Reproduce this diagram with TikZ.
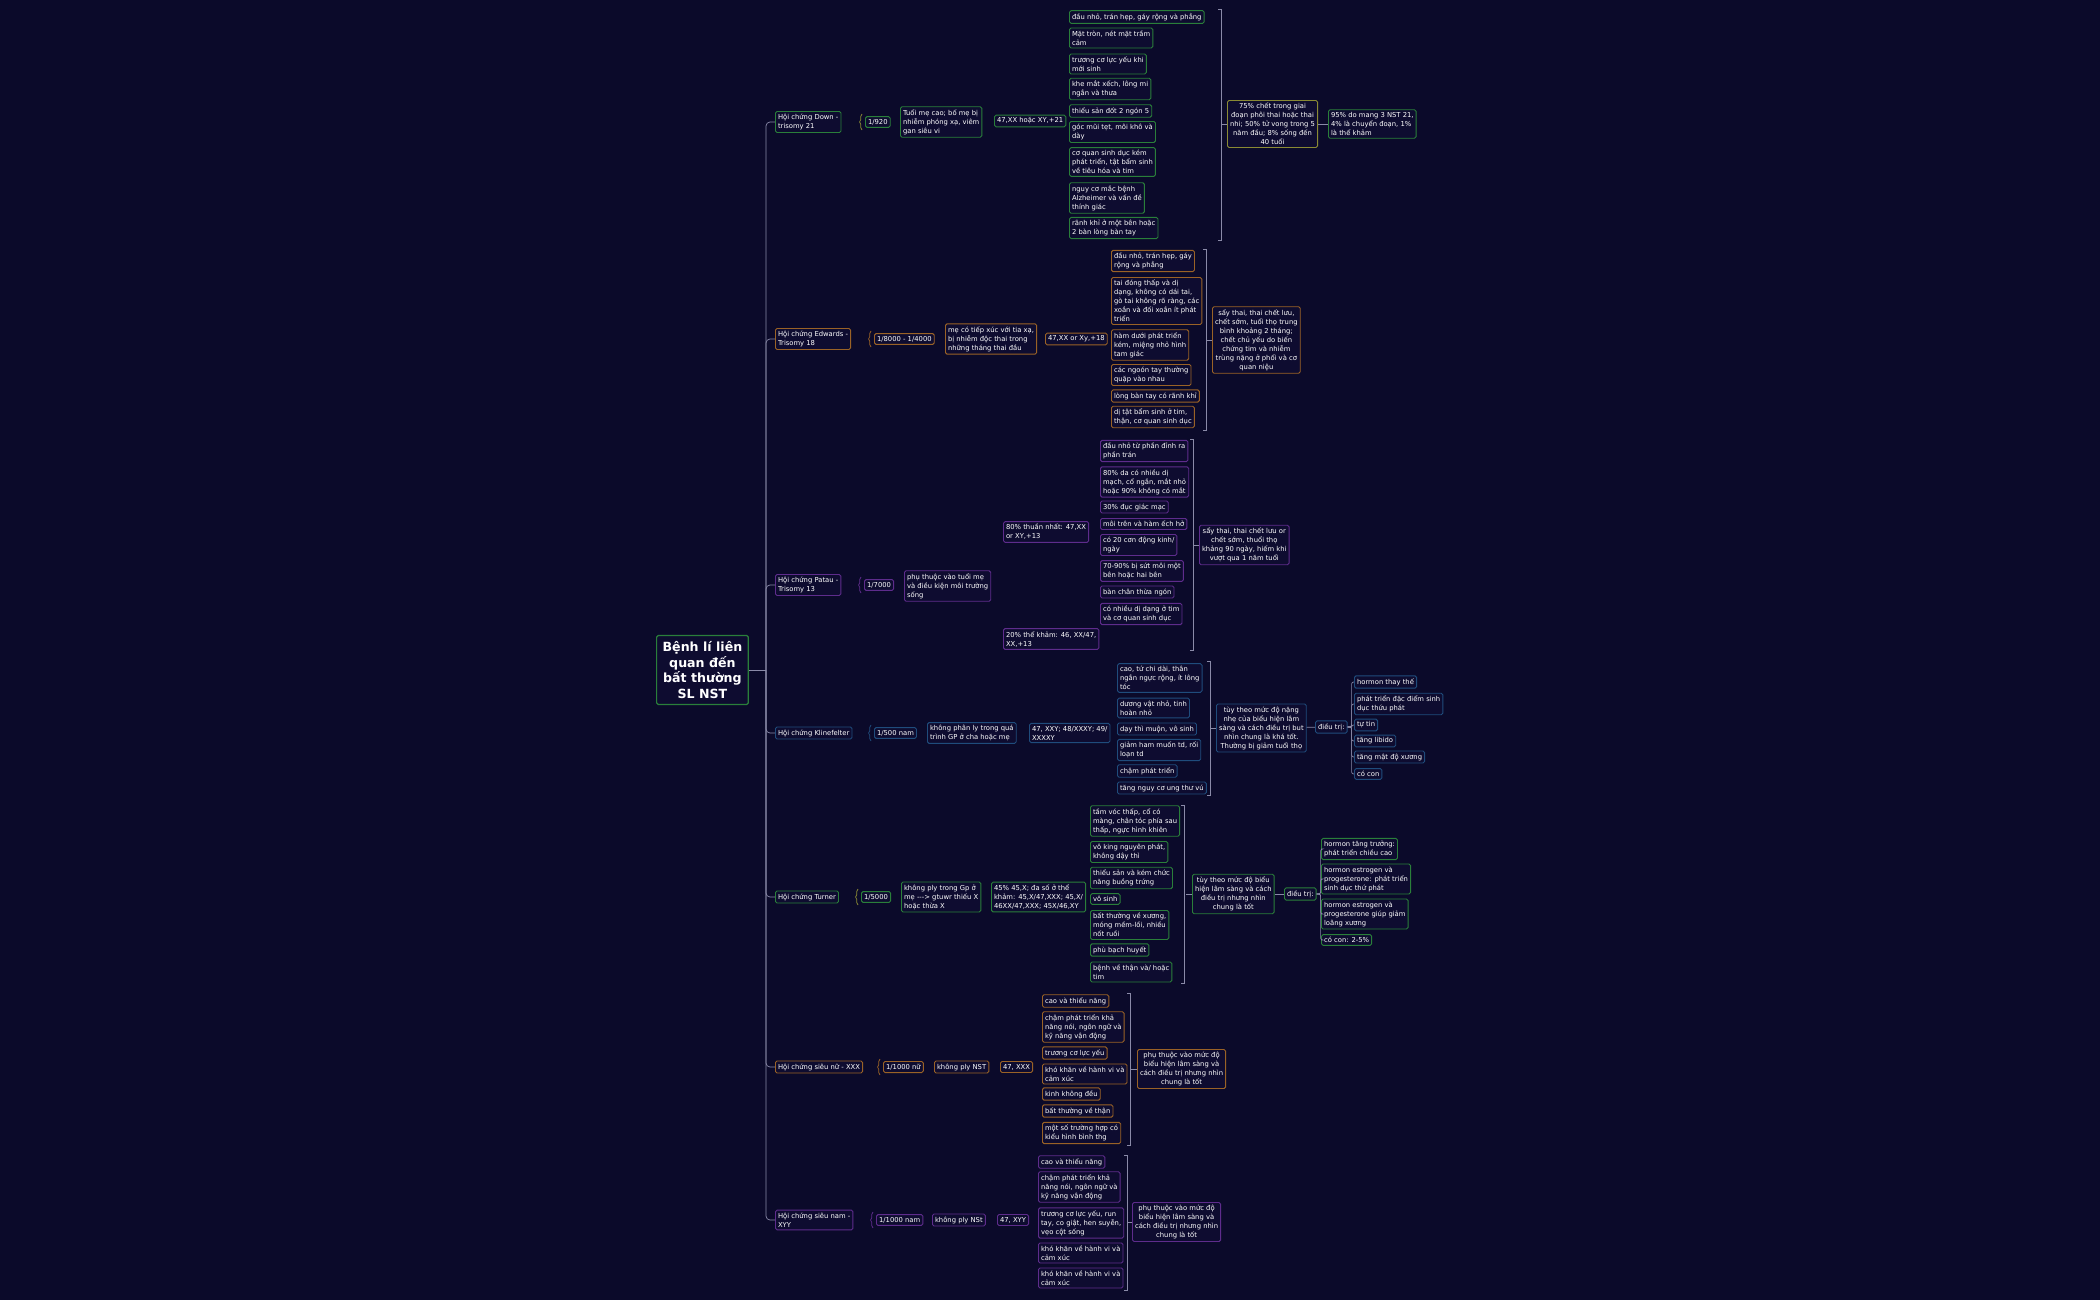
\documentclass[tikz,border=0pt]{standalone}
\usepackage{fontspec}
\setmainfont{DejaVu Sans}
\usetikzlibrary{calc,decorations.pathreplacing}
\definecolor{bgc}{HTML}{0B0A2A}
\definecolor{boxc}{HTML}{0E0C30}
\definecolor{grn}{HTML}{2A7F3A}
\definecolor{org}{HTML}{9A6226}
\definecolor{pur}{HTML}{5E2C8C}
\definecolor{blu}{HTML}{1F4C7C}
\definecolor{olv}{HTML}{8A8A34}
\definecolor{lnc}{HTML}{8A8AA8}
\tikzset{
  box/.style={draw, rounded corners=0.8pt, line width=0.45pt, fill=boxc, text=white,
    anchor=west, align=left, inner sep=1.3pt, font=\fontsize{3.4}{4.5}\selectfont},
  ctr/.style={align=center},
  dn/.style={draw=grn}, ed/.style={draw=org}, pa/.style={draw=pur},
  kl/.style={draw=blu}, tu/.style={draw=grn}, sf/.style={draw=org}, sm/.style={draw=pur},
  ln/.style={draw=lnc, line width=0.35pt},
  brc/.style={decorate, decoration={brace,amplitude=1.2pt}, line width=0.35pt},
}
\newcommand{\bx}[5][]{\node[box,#1] (#2) at (#3,#4) {#5};}
\begin{document}
\begin{tikzpicture}[x=0.5pt, y=-0.5pt]
\fill[bgc] (0,0) rectangle (2100,1300);
\useasboundingbox (0,0) rectangle (2100,1300);

\node[box, draw=grn, line width=0.6pt, align=center, inner sep=3pt,
  font=\fontsize{6.3}{7.8}\selectfont\bfseries] (root) at (656,670)
  {Bệnh lí liên\\quan đến\\bất thường\\SL NST};
\coordinate (rt) at (766,670);
\draw[ln] (root.east) -- (rt);

% Down
\bx[dn]{dS}{775}{122}{Hội chứng Down -\\trisomy 21}
\bx[dn]{dI}{865}{122}{1/920}
\bx[dn]{dC}{900}{122}{Tuổi mẹ cao; bố mẹ bị\\nhiễm phóng xạ, viêm\\gan siêu vi}
\bx[dn]{dK}{994}{121}{47,XX hoặc XY,+21}
\bx[dn]{d1}{1069}{17}{đầu nhỏ, trán hẹp, gáy rộng và phẳng}
\bx[dn]{d2}{1069}{38}{Mặt tròn, nét mặt trầm\\cảm}
\bx[dn]{d3}{1069}{64}{trương cơ lực yếu khi\\mới sinh}
\bx[dn]{d4}{1069}{89}{khe mắt xếch, lông mi\\ngắn và thưa}
\bx[dn]{d5}{1069}{111}{thiểu sản đốt 2 ngón 5}
\bx[dn]{d6}{1069}{132}{góc mũi tẹt, môi khô và\\dày}
\bx[dn]{d7}{1069}{162}{cơ quan sinh dục kém\\phát triển, tật bẩm sinh\\về tiêu hóa và tim}
\bx[dn]{d8}{1069}{198}{nguy cơ mắc bệnh\\Alzheimer và vấn đề\\thính giác}
\bx[dn]{d9}{1069}{228}{rãnh khỉ ở một bên hoặc\\2 bàn lòng bàn tay}
\bx[draw=olv,ctr]{dO}{1227}{124}{75\% chết trong giai\\đoạn phôi thai hoặc thai\\nhi; 50\% tử vong trong 5\\năm đầu; 8\% sống đến\\40 tuổi}
\bx[dn]{dF}{1328}{124}{95\% do mang 3 NST 21,\\4\% là chuyển đoạn, 1\%\\là thể khảm}
\draw[brc, draw=olv] ($(dI.west)+(-3,8)$) -- ($(dI.west)+(-3,-8)$);
\draw[ln] (1218,9) -- (1221,9) -- (1221,240) -- (1218,240);
\draw[ln] (dO.west) -- ++(-6,0);
\draw[ln] (dO) -- (dF);

% Edwards
\bx[ed]{eS}{775}{339}{Hội chứng Edwards -\\Trisomy 18}
\bx[ed]{eI}{874}{339}{1/8000 - 1/4000}
\bx[ed]{eC}{945}{339}{mẹ có tiếp xúc với tia xạ,\\bị nhiễm độc thai trong\\những tháng thai đầu}
\bx[ed]{eK}{1045}{339}{47,XX or Xy,+18}
\bx[ed]{e1}{1111}{261}{đầu nhỏ, trán hẹp, gáy\\rộng và phẳng}
\bx[ed]{e2}{1111}{301}{tai đóng thấp và dị\\dạng, không có dái tai,\\gò tai không rõ ràng, các\\xoắn và đối xoắn ít phát\\triển}
\bx[ed]{e3}{1111}{345}{hàm dưới phát triển\\kém, miệng nhỏ hình\\tam giác}
\bx[ed]{e4}{1111}{375}{các ngoón tay thường\\quặp vào nhau}
\bx[ed]{e5}{1111}{396}{lòng bàn tay có rãnh khỉ}
\bx[ed]{e6}{1111}{417}{dị tật bẩm sinh ở tim,\\thận, cơ quan sinh dục}
\bx[ed,ctr]{eO}{1212}{340}{sẩy thai, thai chết lưu,\\chết sớm, tuổi thọ trung\\bình khoảng 2 tháng;\\chết chủ yếu do biến\\chứng tim và nhiễm\\trùng nặng ở phổi và cơ\\quan niệu}
\draw[brc, draw=org] ($(eI.west)+(-3,8)$) -- ($(eI.west)+(-3,-8)$);
\draw[ln] (1203,249) -- (1206,249) -- (1206,430) -- (1203,430);
\draw[ln] (eO.west) -- ++(-6,0);

% Patau
\bx[pa]{pS}{775}{585}{Hội chứng Patau -\\Trisomy 13}
\bx[pa]{pI}{864}{585}{1/7000}
\bx[pa]{pC}{904}{586}{phụ thuộc vào tuổi mẹ\\và điều kiện môi trường\\sống}
\bx[pa]{pA}{1003}{532}{80\% thuần nhất: 47,XX\\or XY,+13}
\bx[pa]{pB}{1003}{639}{20\% thể khảm: 46, XX/47,\\XX,+13}
\bx[pa]{p1}{1100}{451}{đầu nhỏ từ phần đỉnh ra\\phần trán}
\bx[pa]{p2}{1100}{482}{80\% da có nhiều dị\\mạch, cổ ngắn, mắt nhỏ\\hoặc 90\% không có mắt}
\bx[pa]{p3}{1100}{507}{30\% đục giác mạc}
\bx[pa]{p4}{1100}{524}{môi trên và hàm ếch hở}
\bx[pa]{p5}{1100}{545}{có 20 cơn động kinh/\\ngày}
\bx[pa]{p6}{1100}{571}{70-90\% bị sứt môi một\\bên hoặc hai bên}
\bx[pa]{p7}{1100}{592}{bàn chân thừa  ngón}
\bx[pa]{p8}{1100}{614}{có nhiều dị dạng ở tim\\và cơ quan sinh dục}
\bx[pa,ctr]{pO}{1199}{545}{sẩy thai, thai chết lưu or\\chết sớm, thuổi thọ\\khảng 90 ngày, hiếm khi\\vượt qua 1 năm tuổi}
\draw[brc, draw=pur] ($(pI.west)+(-3,8)$) -- ($(pI.west)+(-3,-8)$);
\draw[ln] (1190,439) -- (1193,439) -- (1193,650) -- (1190,650);
\draw[ln] (pO.west) -- ++(-6,0);

% Klinefelter
\bx[kl]{kS}{775}{733}{Hội chứng Klinefelter}
\bx[kl]{kI}{874}{733}{1/500 nam}
\bx[kl]{kC}{927}{733}{không phân ly trong quá\\trình GP ở cha hoặc mẹ}
\bx[kl]{kK}{1029}{733}{47, XXY; 48/XXXY; 49/\\XXXXY}
\bx[kl]{k1}{1117}{678}{cao, tứ chi dài, thân\\ngắn ngực rộng, ít lông\\tóc}
\bx[kl]{k2}{1117}{708}{dương vật nhỏ, tinh\\hoàn nhỏ}
\bx[kl]{k3}{1117}{729}{dạy thì muộn, vô sinh}
\bx[kl]{k4}{1117}{750}{giảm ham muốn td, rối\\loạn td}
\bx[kl]{k5}{1117}{771}{chậm phát triển}
\bx[kl]{k6}{1117}{788}{tăng nguy cơ ung thư vú}
\bx[kl,ctr]{kO}{1216}{728}{tùy theo mức độ nặng\\nhẹ của biểu hiện lâm\\sàng và cách điều trị but\\nhìn chung là khá tốt.\\Thường bị giảm tuổi thọ}
\bx[kl]{kT}{1315}{727}{điều trị:}
\bx[kl]{kt1}{1354}{682}{hormon thay thế}
\bx[kl]{kt2}{1354}{704}{phát triển đặc điểm sinh\\dục thứu phát}
\bx[kl]{kt3}{1354}{725}{tự tin}
\bx[kl]{kt4}{1354}{741}{tăng libido}
\bx[kl]{kt5}{1354}{757}{tăng mật độ xương}
\bx[kl]{kt6}{1354}{774}{có con}
\draw[brc, draw=blu] ($(kI.west)+(-3,8)$) -- ($(kI.west)+(-3,-8)$);
\draw[ln] (1207,661) -- (1210,661) -- (1210,795) -- (1207,795);
\draw[ln] (kO.west) -- ++(-6,0);
\draw[ln] (kO) -- (kT);
\foreach \n in {kt1,kt2,kt3,kt4,kt5,kt6}
  \draw[ln, rounded corners=1pt] (kT.east) -- ++(4,0) |- (\n.west);

% Turner
\bx[tu]{tS}{775}{897}{Hội chứng Turner}
\bx[tu]{tI}{861}{897}{1/5000}
\bx[tu]{tC}{901}{897}{không ply trong Gp ở\\mẹ -{}-{}-> gtuwr thiếu X\\hoặc thừa X}
\bx[tu]{tK}{991}{897}{45\% 45,X; đa số ở thể\\khảm: 45,X/47,XXX; 45,X/\\46XX/47,XXX; 45X/46,XY}
\bx[tu]{t1}{1090}{821}{tầm vóc thấp, cổ có\\màng, chân tóc phía sau\\thấp, ngực hình khiên}
\bx[tu]{t2}{1090}{852}{vô king nguyên phát,\\không dậy thì}
\bx[tu]{t3}{1090}{878}{thiểu sản và kém chức\\năng buồng trứng}
\bx[tu]{t4}{1090}{899}{vô sinh}
\bx[tu]{t5}{1090}{925}{bất thường về xương,\\móng mềm-lồi, nhiều\\nốt ruồi}
\bx[tu]{t6}{1090}{950}{phù bạch huyết}
\bx[tu]{t7}{1090}{972}{bệnh về thận và/ hoặc\\tim}
\bx[tu,ctr]{tO}{1192}{894}{tùy theo mức độ biểu\\hiện lâm sàng và cách\\điều trị nhưng nhìn\\chung là tốt}
\bx[tu]{tT}{1284}{894}{điều trị:}
\bx[tu]{tt1}{1321}{849}{hormon tăng trưởng:\\phát triển chiều cao}
\bx[tu]{tt2}{1321}{879}{hormon estrogen và\\progesterone: phát triển\\sinh dục thứ phát}
\bx[tu]{tt3}{1321}{914}{hormon estrogen và\\progesterone giúp giảm\\loãng xương}
\bx[tu]{tt4}{1321}{940}{có con: 2-5\%}
\draw[brc, draw=olv] ($(tI.west)+(-3,8)$) -- ($(tI.west)+(-3,-8)$);
\draw[ln] (1181,805) -- (1184,805) -- (1184,983) -- (1181,983);
\draw[ln] (tO.west) -- ++(-6,0);
\draw[ln] (tO) -- (tT);
\foreach \n in {tt1,tt2,tt3,tt4}
  \draw[ln, rounded corners=1pt] (tT.east) -- ++(4,0) |- (\n.west);

% sieu nu
\bx[sf]{fS}{775}{1067}{Hội chứng siêu nữ - XXX}
\bx[sf]{fI}{883}{1067}{1/1000 nữ}
\bx[sf]{fC}{934}{1067}{không ply NST}
\bx[sf]{fK}{1000}{1067}{47, XXX}
\bx[sf]{f1}{1042}{1001}{cao và thiểu năng}
\bx[sf]{f2}{1042}{1027}{chậm phát triển khả\\năng nói, ngôn ngữ và\\kỹ năng vận động}
\bx[sf]{f3}{1042}{1053}{trương cơ lực yếu}
\bx[sf]{f4}{1042}{1074}{khó khăn về hành vi và\\cảm xúc}
\bx[sf]{f5}{1042}{1094}{kinh không đều}
\bx[sf]{f6}{1042}{1111}{bất thường về thận}
\bx[sf]{f7}{1042}{1133}{một số trường hợp có\\kiểu hình bình thg}
\bx[sf,ctr]{fO}{1137}{1069}{phụ thuộc vào mức độ\\biểu hiện lâm sàng và\\cách điều trị nhưng nhìn\\chung là tốt}
\draw[brc, draw=org] ($(fI.west)+(-3,8)$) -- ($(fI.west)+(-3,-8)$);
\draw[ln] (1127,993) -- (1130,993) -- (1130,1145) -- (1127,1145);
\draw[ln] (fO.west) -- ++(-7,0);

% sieu nam
\bx[sm]{mS}{775}{1220}{Hội chứng siêu nam -\\XYY}
\bx[sm]{mI}{876}{1220}{1/1000 nam}
\bx[sm]{mC}{932}{1220}{không ply NSt}
\bx[sm]{mK}{997}{1220}{47, XYY}
\bx[sm]{m1}{1038}{1162}{cao và thiểu năng}
\bx[sm]{m2}{1038}{1187}{chậm phát triển khả\\năng nói, ngôn ngữ và\\kỹ năng vận động}
\bx[sm]{m3}{1038}{1223}{trương cơ lực yếu, run\\tay, co giật, hen suyễn,\\vẹo cột sống}
\bx[sm]{m4}{1038}{1253}{khó khăn về hành vi và\\cảm xúc}
\bx[sm]{m5}{1038}{1278}{khó khăn về hành vi và\\cảm xúc}
\bx[sm,ctr]{mO}{1132}{1222}{phụ thuộc vào mức độ\\biểu hiện lâm sàng và\\cách điều trị nhưng nhìn\\chung là tốt}
\draw[brc, draw=pur] ($(mI.west)+(-3,8)$) -- ($(mI.west)+(-3,-8)$);
\draw[ln] (1124,1155) -- (1127,1155) -- (1127,1290) -- (1124,1290);
\draw[ln] (mO.west) -- ++(-5,0);

\foreach \s in {dS,eS,pS,kS,tS,fS,mS}
  \draw[ln, rounded corners=2pt] (rt) |- (\s.west);
\end{tikzpicture}
\end{document}
